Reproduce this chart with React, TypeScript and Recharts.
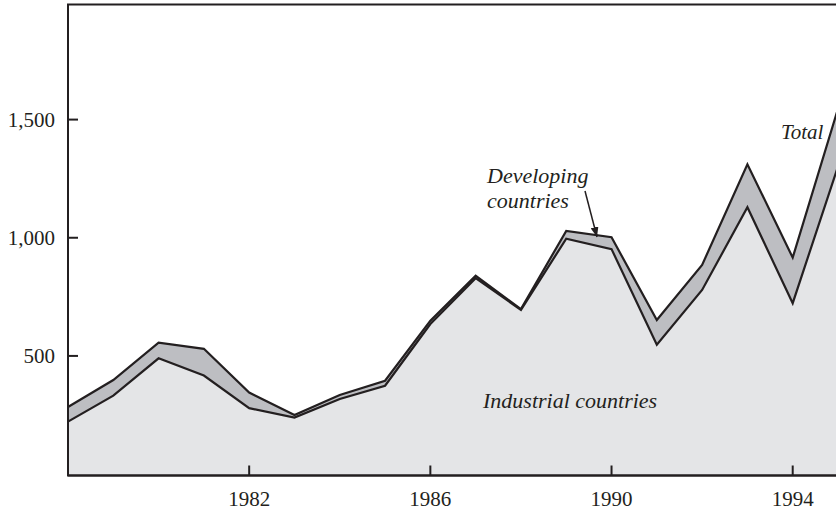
import React from 'react';
import { ComposedChart, Area, XAxis, YAxis, ReferenceArea } from 'recharts';

const years = [1978, 1979, 1980, 1981, 1982, 1983, 1984, 1985, 1986, 1987, 1988, 1989, 1990, 1991, 1992, 1993, 1994, 1995];
const totalValues = [284, 398, 556, 530, 345, 250, 335, 395, 649, 839, 698, 1029, 1002, 652, 885, 1311, 916, 1546];
const industrialValues = [222, 332, 490, 417, 279, 239, 318, 374, 635, 829, 695, 996, 952, 547, 779, 1129, 723, 1302];
const xTicks = [1982, 1986, 1990, 1994];
const yTicks = [500, 1000, 1500];

const data = years.map((year, i) => ({ year, total: totalValues[i], industrial: industrialValues[i] }));

const INK = '#231f20';
const FONT = '"Liberation Serif", "Times New Roman", serif';

const fmt = (v: number) => v.toLocaleString('en-US');

const XTick = (props: any) => {
  const { x, y, payload } = props;
  return (
    <g>
      <line x1={x} x2={x} y1={y} y2={y - 10} stroke={INK} strokeWidth={2} />
      <text x={x} y={y + 30} textAnchor="middle" fontFamily={FONT} fontSize={21} fill={INK}>
        {payload.value}
      </text>
    </g>
  );
};

const YTick = (props: any) => {
  const { x, y, payload } = props;
  return (
    <g>
      <line x1={x} x2={x + 10} y1={y} y2={y} stroke={INK} strokeWidth={2} />
      <text x={x - 13} y={y + 7} textAnchor="end" fontFamily={FONT} fontSize={21} fill={INK}>
        {fmt(payload.value)}
      </text>
    </g>
  );
};

export default function App() {
  return (
    <div style={{ position: 'absolute', left: 0, top: 0, width: 836, height: 511, overflow: 'hidden', background: '#fff' }}>
      <ComposedChart
        width={860}
        height={511}
        data={data}
        margin={{ top: 4.5, right: 22, left: 0, bottom: 0 }}
      >
        <XAxis
          dataKey="year"
          type="number"
          domain={[1978, 1995]}
          ticks={xTicks}
          interval={0}
          height={35.5}
          tickSize={0}
          tickMargin={0}
          tickLine={false}
          axisLine={{ stroke: INK, strokeWidth: 2 }}
          tick={<XTick />}
        />
        <YAxis
          type="number"
          domain={[-6, 1987]}
          ticks={yTicks}
          interval={0}
          width={68}
          tickSize={0}
          tickMargin={0}
          tickLine={false}
          axisLine={{ stroke: INK, strokeWidth: 2 }}
          tick={<YTick />}
        />
        <Area
          dataKey="total"
          type="linear"
          baseValue="dataMin"
          fill="#bdbec2"
          fillOpacity={1}
          stroke={INK}
          strokeWidth={2.2}
          strokeLinejoin="miter"
          isAnimationActive={false}
          dot={false}
          activeDot={false}
        />
        <Area
          dataKey="industrial"
          type="linear"
          baseValue="dataMin"
          fill="#e4e5e7"
          fillOpacity={1}
          stroke={INK}
          strokeWidth={2.2}
          strokeLinejoin="miter"
          isAnimationActive={false}
          dot={false}
          activeDot={false}
        />
        <ReferenceArea
          x1={1978}
          x2={1995}
          y1={-6}
          y2={1987}
          fill="none"
          stroke={INK}
          strokeWidth={2}
          ifOverflow="visible"
        />
      </ComposedChart>
      <svg
        width={836}
        height={511}
        style={{ position: 'absolute', left: 0, top: 0, pointerEvents: 'none' }}
      >
        <defs>
          <marker id="arrowHead" markerWidth={10} markerHeight={8} refX={10} refY={4} orient="auto" markerUnits="userSpaceOnUse">
            <path d="M0,0 L10,4 L0,8 z" fill={INK} />
          </marker>
        </defs>
        <g fontFamily={FONT} fontStyle="italic" fill={INK}>
          <text x={781} y={139} fontSize={21}>Total</text>
          <text x={487} y={183} fontSize={22}>Developing</text>
          <text x={487} y={208} fontSize={22}>countries</text>
          <text x={483} y={408} fontSize={22}>Industrial countries</text>
        </g>
        <line x1={585} y1={191} x2={597} y2={237} stroke={INK} strokeWidth={1.5} markerEnd="url(#arrowHead)" />
      </svg>
    </div>
  );
}
